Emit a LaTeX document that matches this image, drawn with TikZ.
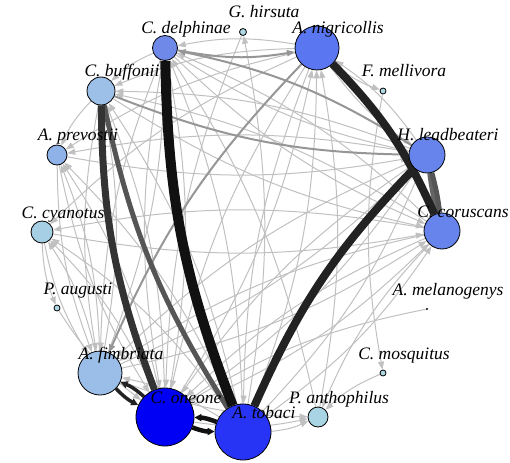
\documentclass[tikz,border=0pt]{standalone}
\usepackage{fontspec}
\setmainfont{Liberation Serif}
\usetikzlibrary{arrows.meta}
\pgfdeclarelayer{edgelayer}
\pgfdeclarelayer{labellayer}
\pgfsetlayers{edgelayer,main,labellayer}
\definecolor{cCD}{RGB}{111,137,232}
\definecolor{cAN}{RGB}{90,118,240}
\definecolor{cHL}{RGB}{102,132,236}
\definecolor{cCC}{RGB}{102,132,236}
\definecolor{cCB}{RGB}{156,192,232}
\definecolor{cAP}{RGB}{143,178,232}
\definecolor{cCY}{RGB}{166,206,228}
\definecolor{cAF}{RGB}{155,190,232}
\definecolor{cCO}{RGB}{0,0,245}
\definecolor{cAT}{RGB}{40,52,245}
\definecolor{cPA}{RGB}{168,212,228}
\definecolor{csmall}{RGB}{173,216,230}
\definecolor{lightedge}{RGB}{192,192,192}
\definecolor{midedge}{RGB}{150,150,150}
\begin{document}
\begin{tikzpicture}[x=1pt,y=-1pt,
  vtx/.style={circle, draw=black, line width=0.8pt, inner sep=0pt},
  lbl/.style={anchor=base, font=\itshape\fontsize{17.5}{17.5}\selectfont, inner sep=0pt},
  ltedge/.style={draw=lightedge, line width=1pt, -{Triangle[length=8pt,width=6pt]}, bend right=10},
  mdedge/.style={draw=midedge, line width=2pt, -{Triangle[length=8pt,width=6pt]}, bend right=10},
  thedge/.style={line width=#1, bend right=10}
]
\useasboundingbox (0,0) rectangle (510,462);
% vertices
\node[vtx, minimum size=7pt, fill=csmall] (GH) at (243,32) {};
\node[vtx, minimum size=44pt, fill=cAN] (AN) at (317,48) {};
\node[vtx, minimum size=6pt, fill=csmall] (FM) at (383,91) {};
\node[vtx, minimum size=36pt, fill=cHL] (HL) at (427,155) {};
\node[vtx, minimum size=36pt, fill=cCC] (CC) at (442,231) {};
\node[circle, fill=black, inner sep=0pt, minimum size=2.4pt] (AM) at (427,309) {};
\node[vtx, minimum size=6pt, fill=csmall] (CM) at (383,373) {};
\node[vtx, minimum size=20pt, fill=cPA] (PA) at (318,417) {};
\node[vtx, minimum size=56pt, fill=cAT] (AT) at (243,432) {};
\node[vtx, minimum size=58pt, fill=cCO] (CO) at (165,417) {};
\node[vtx, minimum size=44pt, fill=cAF] (AF) at (100,373) {};
\node[vtx, minimum size=6pt, fill=csmall] (PU) at (57,308) {};
\node[vtx, minimum size=22pt, fill=cCY] (CY) at (42,232) {};
\node[vtx, minimum size=20pt, fill=cAP] (AP) at (57,155) {};
\node[vtx, minimum size=28pt, fill=cCB] (CB) at (101,91) {};
\node[vtx, minimum size=25pt, fill=cCD] (CD) at (165,48) {};
% labels
\begin{pgfonlayer}{labellayer}
\node[lbl] (lGH) at (264,18) {G. hirsuta};
\node[lbl] (lAN) at (338,34) {A. nigricollis};
\node[lbl] (lFM) at (404,77) {F. mellivora};
\node[lbl] (lHL) at (448,141) {H. leadbeateri};
\node[lbl] (lCC) at (463,217) {C. coruscans};
\node[lbl] (lAM) at (448,295) {A. melanogenys};
\node[lbl] (lCM) at (404,359) {C. mosquitus};
\node[lbl] (lPA) at (339,403) {P. anthophilus};
\node[lbl] (lAT) at (264,418) {A. tobaci};
\node[lbl] (lCO) at (186,403) {C. oneone};
\node[lbl] (lAF) at (121,359) {A. fimbriata};
\node[lbl] (lPU) at (78,294) {P. augusti};
\node[lbl] (lCY) at (63,218) {C. cyanotus};
\node[lbl] (lAP) at (78,141) {A. prevostii};
\node[lbl] (lCB) at (122,77) {C. buffonii};
\node[lbl] (lCD) at (186,34) {C. delphinae};
\end{pgfonlayer}
% edges
\begin{pgfonlayer}{edgelayer}
\foreach \a/\b in {AT/AN,AT/CD,AT/CB,AT/AP,AT/CY,AT/AF,AT/HL,AT/CC,AT/PA,AT/GH,
  CO/AN,CO/CD,CO/CB,CO/AP,CO/CY,CO/HL,CO/CC,CO/PA,
  AF/CD,AF/CB,AF/AP,AF/CY,AF/HL,AF/CC,AF/PA,
  AN/CD,AN/CB,AN/AP,AN/CY,AN/FM,AN/HL,AN/CO,AN/AT,
  CD/CB,CD/AF,CD/CO,CD/HL,CD/CC,
  HL/CB,HL/AP,HL/AF,HL/CO,HL/AN,
  CC/CD,CC/CB,CC/CY,CC/AF,CC/CO,CC/PA,
  CB/AF,CB/CC,CB/AP,
  AP/AF,AP/CO,AP/HL,
  CY/AF,CY/PU,CY/CC,
  PA/AN,PA/CD,
  GH/CO,FM/CM,CM/PA,AM/CO,PU/CO}
  \draw[ltedge] (\a) to (\b);
\draw[mdedge] (CD) to (AN);
\draw[mdedge] (HL) to (CD);
\draw[mdedge] (CB) to (HL);
\draw[mdedge] (AN) to (AF);
\draw[thedge=4pt, draw={rgb,255:red,100;green,100;blue,100}, bend right=4] (HL) to (CC);
\draw[thedge=5pt, draw={rgb,255:red,85;green,85;blue,85}, bend right=4] (CC) to (HL);
\draw[thedge=5pt, draw={rgb,255:red,85;green,85;blue,85}] (CB) to (AT);
\draw[thedge=7pt, draw={rgb,255:red,51;green,51;blue,51}] (CB) to (CO);
\draw[thedge=8pt, draw={rgb,255:red,34;green,34;blue,34}] (CC) to (AN);
\draw[thedge=8pt, draw={rgb,255:red,34;green,34;blue,34}] (HL) to (AT);
\draw[thedge=10pt, draw={rgb,255:red,17;green,17;blue,17}] (CD) to (AT);
\draw[thedge=3.5pt, draw={rgb,255:red,34;green,34;blue,34}, -{Triangle[length=7pt,width=7pt]}] (AF) to (CO);
\draw[thedge=3.5pt, draw={rgb,255:red,34;green,34;blue,34}, -{Triangle[length=7pt,width=7pt]}] (CO) to (AF);
\draw[thedge=4.5pt, draw={rgb,255:red,17;green,17;blue,17}, -{Triangle[length=7pt,width=7pt]}] (CO) to (AT);
\draw[thedge=4.5pt, draw={rgb,255:red,17;green,17;blue,17}, -{Triangle[length=7pt,width=7pt]}] (AT) to (CO);
\end{pgfonlayer}
\end{tikzpicture}
\end{document}
